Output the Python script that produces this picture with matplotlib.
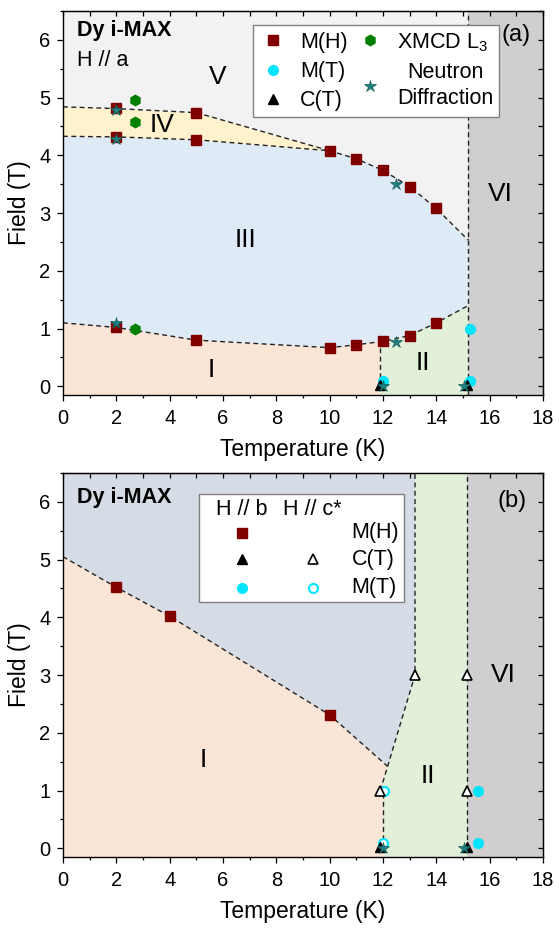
import numpy as np
import matplotlib
matplotlib.use('Agg')
import matplotlib.pyplot as plt
from matplotlib.lines import Line2D
from matplotlib.text import Text
from matplotlib.offsetbox import DrawingArea, AnchoredOffsetbox
from matplotlib.ticker import MultipleLocator

plt.rcParams['font.family'] = ['Liberation Sans', 'DejaVu Sans']
plt.rcParams['mathtext.default'] = 'regular'

# ---------------- Panel (a): H // a ----------------
mh_a_T = [2, 2, 2, 5, 5, 5, 10, 10, 11, 11, 12, 12, 13, 13, 14, 14]
mh_a_H = [4.82, 4.32, 1.02, 4.74, 4.27, 0.80, 4.08, 0.67, 3.94, 0.72, 3.74, 0.78, 3.46, 0.88, 3.08, 1.10]
xmcd_a_T = [2.7, 2.7, 2.7]
xmcd_a_H = [4.96, 4.57, 1.00]
neut_a_T = [2, 2, 2, 12.5, 12.5, 12.0, 15.05]
neut_a_H = [4.78, 4.28, 1.10, 3.51, 0.76, 0.0, 0.0]
mt_a_T = [12.0, 15.25, 15.25]
mt_a_H = [0.10, 1.00, 0.10]
ct_a_T = [11.9, 15.15]
ct_a_H = [0.03, 0.03]

# phase boundaries (a)
bIV_T = [0, 2, 5, 10]
bIV_H = [4.84, 4.81, 4.74, 4.08]
bIII_T = [0, 2, 5, 10, 11, 12, 13, 14, 15.2]
bIIItop_H = [4.33, 4.32, 4.27, 4.08, 3.94, 3.74, 3.46, 3.08, 2.53]
bIIIbot_H = [1.10, 1.02, 0.80, 0.67, 0.72, 0.78, 0.88, 1.10, 1.40]
T1_a = 11.9
TN_a = 15.2

# ---------------- Panel (b): H // b and H // c* ----------------
mh_b_T = [2, 4, 10]
mh_b_H = [4.52, 4.02, 2.31]
ct_b_T = [11.9, 15.15]
ct_b_H = [0.03, 0.03]
ct_c_T = [11.9, 13.2, 15.15, 15.15]
ct_c_H = [1.0, 3.0, 3.0, 1.0]
mt_b_T = [15.55, 15.55]
mt_b_H = [1.0, 0.1]
mt_c_T = [12.05, 12.0]
mt_c_H = [1.0, 0.1]
neut_b_T = [12.0, 15.05]
neut_b_H = [0.0, 0.0]

bI_T = [0, 2, 4, 10, 12.17]
bI_H = [5.05, 4.52, 4.02, 2.31, 1.42]
bII_T = [12.0, 12.0, 11.9, 13.2, 13.2]
bII_H = [-0.15, 1.0, 1.0, 3.0, 6.5]
TN_b = 15.15

YMIN, YMAX = -0.15, 6.5

C_V = '#f2f2f2'
C_IV = '#fff2cc'
C_III = '#deebf7'
C_I = '#fbe5d6'
C_II = '#e2f0d9'
C_VI = '#d0cece'
C_UP = '#d6dce5'
C_SQ = '#800000'
C_HEX = '#008000'
C_STAR = '#1f7f80'
C_CYAN = '#00e5ff'

DASH = dict(color='#222222', lw=1.0, ls=(0, (3.5, 2.5)))
MS = dict(ls='')
LAB = 14.5
REG = 19

fig = plt.figure(figsize=(5.59, 9.31), dpi=100)
ax1 = fig.add_axes([0.1127, 0.5757, 0.8587, 0.4125])
ax2 = fig.add_axes([0.1127, 0.0795, 0.8587, 0.4125])


def style_axes(ax):
    ax.set_xlim(0, 18)
    ax.set_ylim(YMIN, YMAX)
    ax.xaxis.set_major_locator(MultipleLocator(2))
    ax.xaxis.set_minor_locator(MultipleLocator(1))
    ax.yaxis.set_major_locator(MultipleLocator(1))
    ax.yaxis.set_minor_locator(MultipleLocator(0.5))
    ax.tick_params(which='both', direction='out', labelsize=LAB, width=0.9)
    ax.tick_params(axis='x', which='both', pad=6)
    ax.tick_params(axis='y', which='both', pad=5)
    ax.tick_params(which='major', length=4)
    ax.tick_params(which='minor', length=2.3)
    for s in ax.spines.values():
        s.set_linewidth(1.0)
    sx = ax.secondary_xaxis('top')
    sx.xaxis.set_major_locator(MultipleLocator(2))
    sx.xaxis.set_minor_locator(MultipleLocator(1))
    sx.tick_params(which='both', direction='in', labeltop=False, length=3.5, width=0.9)
    sy = ax.secondary_yaxis('right')
    sy.yaxis.set_major_locator(MultipleLocator(1))
    sy.yaxis.set_minor_locator(MultipleLocator(0.5))
    sy.tick_params(which='both', direction='in', labelright=False, length=3.5, width=0.9)
    ax.set_xlabel('Temperature (K)', fontsize=16.5, labelpad=7)
    ax.set_ylabel('Field (T)', fontsize=16.5, labelpad=6)


# ======== Panel (a) ========
ax = ax1
ax.set_facecolor(C_V)
ax.axvspan(TN_a, 18, color=C_VI, lw=0, zorder=0)
ax.fill_between(bIII_T, bIIIbot_H, bIIItop_H, color=C_III, lw=0, zorder=0.5)
ax.fill_between(bIV_T, bIIItop_H[:len(bIV_T)], bIV_H, color=C_IV, lw=0, zorder=0.5)
Tb = np.array(bIII_T)
Hb = np.array(bIIIbot_H)
h1 = np.interp(T1_a, Tb, Hb)
left = Tb < T1_a
polyI_T = np.concatenate([[0], Tb[left], [T1_a, T1_a]])
polyI_H = np.concatenate([[YMIN], Hb[left], [h1, YMIN]])
ax.fill(polyI_T, polyI_H, color=C_I, lw=0, zorder=0.5)
polyII_T = np.concatenate([[T1_a, T1_a], Tb[~left], [TN_a]])
polyII_H = np.concatenate([[YMIN, h1], Hb[~left], [YMIN]])
ax.fill(polyII_T, polyII_H, color=C_II, lw=0, zorder=0.5)

ax.plot(bIV_T, bIV_H, **DASH, zorder=2)
ax.plot(bIII_T, bIIItop_H, **DASH, zorder=2)
ax.plot(bIII_T, bIIIbot_H, **DASH, zorder=2)
ax.plot([T1_a, T1_a], [0, h1], **DASH, zorder=2)
ax.plot([TN_a, TN_a], [YMIN, YMAX], **DASH, zorder=2)

ax.plot(mh_a_T, mh_a_H, marker='s', ms=6.5, color=C_SQ, **MS, zorder=3)
ax.plot(xmcd_a_T, xmcd_a_H, marker='h', ms=7.5, color=C_HEX, **MS, zorder=3)
ax.plot(mt_a_T, mt_a_H, marker='o', ms=7, color=C_CYAN, **MS, zorder=3)
ax.plot(ct_a_T, ct_a_H, marker='^', ms=7, color='black', **MS, zorder=3)
ax.plot(neut_a_T, neut_a_H, marker='*', ms=9, color=C_STAR, mec='#155e5e', mew=0.5, **MS, zorder=4)

for s, x, y in [('V', 5.8, 5.36), ('IV', 3.7, 4.53), ('III', 6.85, 2.53),
                ('I', 5.55, 0.29), ('II', 13.5, 0.4), ('VI', 16.4, 3.33)]:
    ax.text(x, y, s, fontsize=REG, ha='center', va='center', zorder=5)
ax.text(17.0, 6.08, '(a)', fontsize=17, ha='center', va='center', zorder=5)
ax.text(0.029, 0.95, 'Dy i-MAX', transform=ax.transAxes, fontsize=15.5,
        fontweight='bold', ha='left', va='center', zorder=5)
ax.text(0.029, 0.87, 'H // a', transform=ax.transAxes, fontsize=15.5,
        ha='left', va='center', zorder=5)

handles = [
    Line2D([], [], ls='', marker='s', ms=6.5, color=C_SQ),
    Line2D([], [], ls='', marker='o', ms=7, color=C_CYAN),
    Line2D([], [], ls='', marker='^', ms=7, color='black'),
    Line2D([], [], ls='', marker='h', ms=7.5, color=C_HEX),
    Line2D([], [], ls='', marker='*', ms=9, color=C_STAR, mec='#155e5e', mew=0.5),
]
labels = ['M(H)', 'M(T)', 'C(T)', 'XMCD L$_3$', 'Neutron\nDiffraction']
leg = ax.legend(handles, labels, ncol=2, loc='upper left', bbox_to_anchor=(0.396, 0.9635),
                borderaxespad=0, fontsize=15.5, frameon=True, fancybox=False,
                edgecolor='#808080', framealpha=1, handlelength=1.3, handletextpad=0.6,
                columnspacing=0.4, labelspacing=0.38, borderpad=0.28)
leg.get_frame().set_linewidth(1.0)
for t in leg.get_texts():
    t.set_multialignment('center')
    t.set_linespacing(1.3)
leg.set_zorder(6)
style_axes(ax)

# ======== Panel (b) ========
ax = ax2
ax.set_facecolor(C_UP)
ax.axvspan(TN_b, 18, color=C_VI, lw=0, zorder=0)
polyI_T = np.concatenate([[0], bI_T, bII_T[2::-1]])
polyI_H = np.concatenate([[YMIN], bI_H, bII_H[2::-1]])
ax.fill(polyI_T, polyI_H, color=C_I, lw=0, zorder=0.5)
polyII_T = np.concatenate([bII_T, [TN_b, TN_b]])
polyII_H = np.concatenate([bII_H, [YMAX, YMIN]])
ax.fill(polyII_T, polyII_H, color=C_II, lw=0, zorder=0.5)

ax.plot(bI_T, bI_H, **DASH, zorder=2)
ax.plot(bII_T[:2], [0, bII_H[1]], **DASH, zorder=2)
ax.plot(bII_T[2:], bII_H[2:], **DASH, zorder=2)
ax.plot([TN_b, TN_b], [0, YMAX], **DASH, zorder=2)

ax.plot(mh_b_T, mh_b_H, marker='s', ms=6.5, color=C_SQ, **MS, zorder=3)
ax.plot(mt_b_T, mt_b_H, marker='o', ms=7, color=C_CYAN, **MS, zorder=3)
ax.plot(mt_c_T, mt_c_H, marker='o', ms=6.5, mfc='white', mec=C_CYAN, mew=1.5, **MS, zorder=3)
ax.plot(ct_b_T, ct_b_H, marker='^', ms=7, color='black', **MS, zorder=3)
ax.plot(ct_c_T, ct_c_H, marker='^', ms=7, mfc='white', mec='black', mew=1.2, **MS, zorder=3)
ax.plot(neut_b_T, neut_b_H, marker='*', ms=9, color=C_STAR, mec='#155e5e', mew=0.5, **MS, zorder=4)

for s, x, y in [('I', 5.25, 1.53), ('II', 13.7, 1.26), ('VI', 16.5, 3.0)]:
    ax.text(x, y, s, fontsize=REG, ha='center', va='center', zorder=5)
ax.text(16.85, 6.02, '(b)', fontsize=17, ha='center', va='center', zorder=5)
ax.text(0.029, 0.936, 'Dy i-MAX', transform=ax.transAxes, fontsize=15.5,
        fontweight='bold', ha='left', va='center', zorder=5)

# table-like legend for panel (b)
W, Hh = 147.6, 77.8
da = DrawingArea(W, Hh, 0, 0)
cx1, cx2, xt = 31, 82, 110
rows = [67, 50, 31, 10.5]
da.add_artist(Text(cx1, rows[0], 'H // b', ha='center', va='center', fontsize=15.5))
da.add_artist(Text(cx2, rows[0], 'H // c*', ha='center', va='center', fontsize=15.5))
for r, s in zip(rows[1:], ['M(H)', 'C(T)', 'M(T)']):
    da.add_artist(Text(xt, r, s, ha='left', va='center', fontsize=15.5))
da.add_artist(Line2D([cx1], [rows[1]], ls='', marker='s', ms=6.5, color=C_SQ))
da.add_artist(Line2D([cx1], [rows[2]], ls='', marker='^', ms=7, color='black'))
da.add_artist(Line2D([cx1], [rows[3]], ls='', marker='o', ms=7, color=C_CYAN))
da.add_artist(Line2D([cx2], [rows[2]], ls='', marker='^', ms=7, mfc='white', mec='black', mew=1.2))
da.add_artist(Line2D([cx2], [rows[3]], ls='', marker='o', ms=6.5, mfc='white', mec=C_CYAN, mew=1.5))
box = AnchoredOffsetbox(loc='upper left', child=da, pad=0, borderpad=0, frameon=True,
                        bbox_to_anchor=(0.283, 0.945), bbox_transform=ax.transAxes)
box.patch.set_edgecolor('#808080')
box.patch.set_linewidth(1.0)
box.patch.set_facecolor('white')
box.set_zorder(6)
ax.add_artist(box)
style_axes(ax)

fig.savefig('out.png', dpi=100)
